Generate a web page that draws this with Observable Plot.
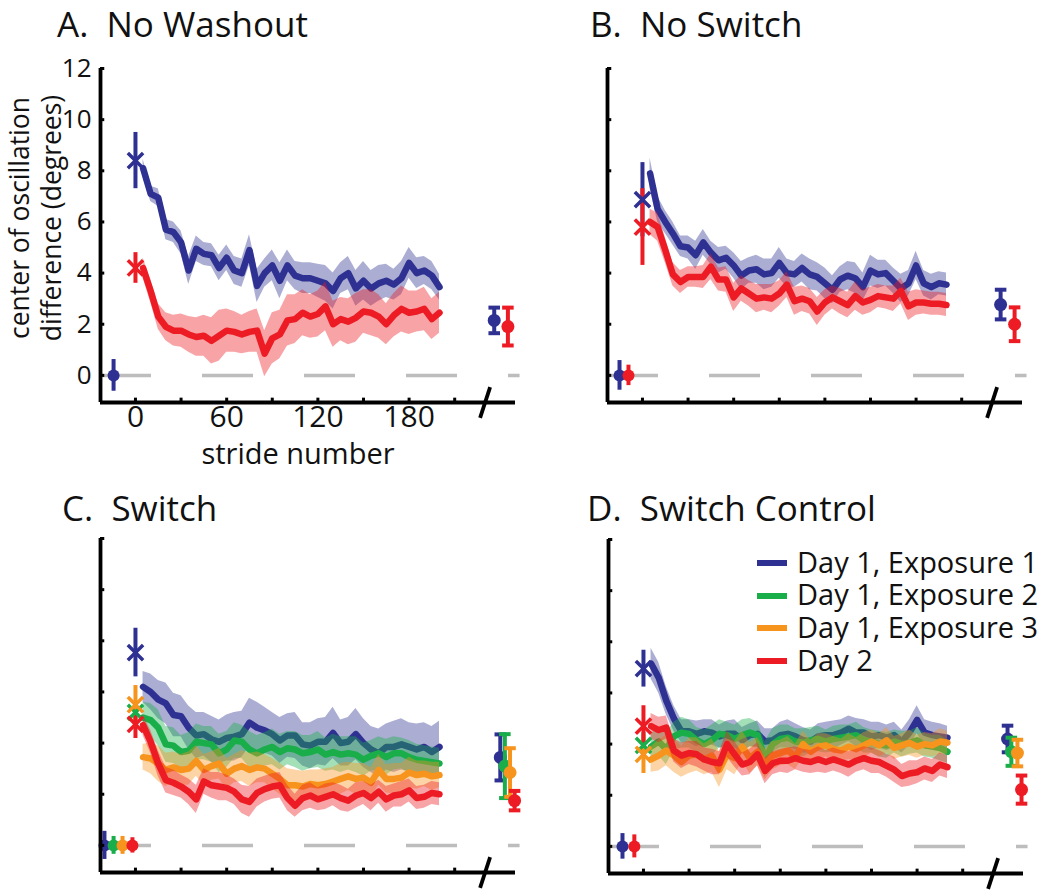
<!DOCTYPE html>
<html>
<head>
<meta charset="utf-8">
<script src="https://cdn.jsdelivr.net/npm/d3@7"></script>
<script src="https://cdn.jsdelivr.net/npm/@observablehq/plot@0.6"></script>
<style>
  html, body { margin: 0; padding: 0; background: #fff; }
  #wrap { position: relative; width: 1050px; height: 890px; overflow: hidden; font-family: "Open Sans", sans-serif; color: #111; }
  .panel { position: absolute; }
  .title { position: absolute; font-size: 35px; line-height: 48px; white-space: pre; }
  .ylab { position: absolute; width: 270px; height: 64px; font-size: 26.5px; line-height: 32px; text-align: center;
          transform: rotate(-90deg); transform-origin: 50% 50%; white-space: pre; }
  .legtext { position: absolute; left: 797px; top: 545.7px; font-size: 29px; line-height: 32.7px; white-space: pre; }
  .sw { position: absolute; left: 757px; width: 30px; height: 6px; }
</style>
</head>
<body>
<div id="wrap"></div>
<script>
// ---------- data ----------
const seriesNames = ["Day 1, Exposure 1", "Day 1, Exposure 2", "Day 1, Exposure 3", "Day 2"];
const colors = ["#2e3192", "#1aae4b", "#f7941d", "#ed1c24"];

const strides = [5,10,15,20,25,30,35,40,45,50,55,60,65,70,75,80,85,90,95,100,
                 105,110,115,120,125,130,135,140,145,150,155,160,165,170,175,180,185,190,195,200];

const yTicks = [0, 2, 4, 6, 8, 10, 12];
const xTicks = [0, 30, 60, 90, 120, 150, 180, 210];
const xTickLabels = [0, 60, 120, 180];
const breakAt = 230;
const xLabel = "stride number";
const yLabel = "center of oscillation\ndifference (degrees)";

// Panel A: No Washout
const A_blue = [8.1,7.1,6.95,5.7,5.6,5.2,4.1,4.95,4.75,4.7,4.2,4.6,4.1,4.0,4.9,3.5,4.0,4.3,3.7,4.3,3.9,3.8,3.8,3.7,3.6,3.3,3.8,4.0,3.4,3.7,3.4,3.6,3.7,3.55,3.8,4.4,4.0,4.1,3.9,3.45];
const A_blue_err = [0.35,0.3,0.35,0.4,0.4,0.45,0.55,0.5,0.45,0.45,0.5,0.5,0.55,0.55,0.6,0.65,0.55,0.6,0.7,0.6,0.55,0.6,0.6,0.65,0.7,0.7,0.6,0.65,0.7,0.75,0.7,0.7,0.65,0.6,0.65,0.6,0.6,0.55,0.55,0.5];
const A_red = [4.2,3.3,2.3,1.9,1.75,1.75,1.6,1.5,1.55,1.35,1.55,1.75,1.7,1.6,1.7,1.75,0.85,1.45,1.6,2.15,2.2,2.45,2.3,2.4,2.7,2.0,2.2,2.1,2.25,2.5,2.45,2.3,2.0,2.35,2.6,2.45,2.5,2.6,2.2,2.45];
const A_red_err = [0.4,0.45,0.5,0.55,0.6,0.65,0.7,0.75,0.8,0.9,1.0,0.85,0.8,0.75,0.8,0.85,0.9,1.0,0.95,1.0,0.95,0.9,0.85,0.9,0.95,0.9,0.85,0.9,0.95,0.85,0.9,0.85,0.8,0.85,0.9,0.85,0.8,0.85,0.8,0.8];
// [series, stride, mean, sem]
const A_initial = [[0, 0, 8.4, 1.1], [3, 0, 4.2, 0.6]];
const A_baseline = [[0, -14.4, 0, 0.62]];
const A_post = [[0, 236, 2.15, 0.5], [3, 245, 1.91, 0.74]];

// Panel B: No Switch
const B_blue = [7.9,6.5,6.0,5.55,5.05,5.0,4.7,5.2,4.8,4.5,4.6,4.3,3.9,4.1,4.15,3.95,4.0,4.4,4.0,3.95,4.2,3.95,3.85,3.6,3.35,3.75,3.9,3.8,3.45,4.1,3.95,4.0,3.7,3.4,3.6,4.3,3.6,3.45,3.6,3.55];
const B_blue_err = [0.6,0.5,0.45,0.45,0.4,0.45,0.55,0.5,0.45,0.5,0.45,0.5,0.55,0.5,0.55,0.6,0.55,0.6,0.55,0.5,0.55,0.6,0.55,0.6,0.55,0.5,0.55,0.6,0.55,0.6,0.55,0.5,0.5,0.55,0.5,0.55,0.5,0.5,0.45,0.45];
const B_red = [6.0,5.8,4.9,3.95,3.65,3.85,3.85,3.85,4.25,3.75,3.75,3.05,3.4,3.2,3.0,3.05,3.0,3.2,3.55,2.9,3.0,2.9,2.5,2.85,3.05,2.9,2.75,3.1,2.85,2.95,3.1,3.05,3.0,3.3,2.7,2.85,2.85,2.8,2.8,2.75];
const B_red_err = [0.5,0.55,0.5,0.45,0.45,0.4,0.4,0.45,0.5,0.45,0.5,0.55,0.5,0.5,0.55,0.5,0.55,0.5,0.5,0.55,0.5,0.5,0.55,0.5,0.45,0.5,0.5,0.55,0.5,0.5,0.45,0.45,0.5,0.5,0.55,0.5,0.45,0.45,0.45,0.45];
const B_initial = [[0, 0, 6.87, 1.45], [3, 0, 5.8, 1.5]];
const B_baseline = [[0, -15.1, 0, 0.58], [3, -9.2, 0, 0.4]];
const B_post = [[0, 235.6, 2.77, 0.58], [3, 244.8, 2.0, 0.66]];

// Panel C: Switch
const C_blue = [6.2,6.0,5.7,5.55,5.1,5.05,4.6,4.3,4.35,4.15,4.05,4.2,4.25,4.35,4.8,4.6,4.5,4.35,4.1,4.3,4.3,3.95,3.9,4.05,4.05,4.4,4.0,4.05,4.35,4.0,3.75,3.6,3.85,3.85,3.95,3.85,3.75,3.85,3.65,3.85];
const C_blue_err = [0.6,0.7,0.75,0.8,0.85,0.8,0.85,0.9,0.85,0.9,0.85,0.9,0.95,0.9,0.95,1.0,0.9,0.85,0.9,0.85,0.9,0.85,0.9,0.9,0.95,1.0,0.9,0.95,1.0,0.95,0.9,0.95,0.9,1.0,1.0,0.95,1.0,0.95,1.0,1.0];
const C_green = [5.0,4.9,4.6,3.95,3.9,3.65,3.7,4.05,4.0,3.95,3.6,3.75,4.1,4.05,3.75,3.6,3.75,3.85,3.65,3.8,3.75,3.6,3.65,3.75,3.55,3.65,3.55,3.6,3.55,3.35,3.5,3.6,3.45,3.6,3.6,3.45,3.35,3.3,3.25,3.2];
const C_green_err = [0.6,0.65,0.7,0.7,0.7,0.65,0.7,0.7,0.65,0.7,0.75,0.7,0.7,0.65,0.7,0.7,0.65,0.7,0.7,0.65,0.7,0.7,0.65,0.7,0.65,0.7,0.7,0.65,0.7,0.65,0.6,0.65,0.7,0.65,0.6,0.65,0.6,0.6,0.6,0.6];
const C_orange = [3.45,3.4,3.2,2.95,3.05,2.95,3.0,3.3,2.95,3.1,3.2,2.8,3.0,3.1,2.95,3.05,3.0,2.8,2.6,2.35,2.35,2.3,2.4,2.35,2.4,2.5,2.6,2.7,2.6,2.65,2.45,2.95,2.6,2.6,2.65,2.85,2.75,2.8,2.7,2.75];
const C_orange_err = [0.5,0.6,0.7,0.65,0.6,0.6,0.65,0.6,0.6,0.55,0.6,0.6,0.55,0.6,0.65,0.6,0.55,0.6,0.6,0.65,0.6,0.6,0.55,0.6,0.6,0.55,0.6,0.55,0.6,0.55,0.6,0.6,0.55,0.6,0.55,0.6,0.55,0.5,0.55,0.5];
const C_red = [4.7,4.05,3.2,2.55,2.45,2.3,2.1,1.8,2.5,2.35,2.3,2.25,2.1,1.8,1.7,2.05,2.2,2.3,2.35,1.85,1.55,1.85,1.95,1.8,1.9,2.0,1.85,1.75,1.95,2.05,1.85,2.1,1.8,1.95,2.0,2.15,1.85,1.9,2.05,2.0];
const C_red_err = [0.4,0.45,0.5,0.5,0.5,0.45,0.5,0.55,0.5,0.5,0.55,0.5,0.5,0.55,0.6,0.55,0.5,0.5,0.5,0.5,0.45,0.5,0.5,0.45,0.5,0.45,0.5,0.45,0.5,0.45,0.5,0.45,0.5,0.45,0.5,0.45,0.45,0.45,0.45,0.45];
const C_initial = [[0, 0, 7.54, 0.95], [1, 0, 5.2, 0.4], [2, 0, 5.5, 0.75], [3, 0, 4.73, 0.55]];
const C_baseline = [[0, -20.4, 0, 0.55], [1, -14.4, 0, 0.35], [2, -8.5, 0, 0.35], [3, -2, 0, 0.3]];
const C_post = [[0, 240, 3.44, 0.9], [1, 243, 3.1, 1.25], [2, 246.4, 2.85, 0.95], [3, 249.4, 1.75, 0.38]];

// Panel D: Switch Control
const D_blue = [7.15,6.6,5.7,5.0,4.5,4.5,4.4,4.5,4.45,4.3,4.4,4.4,4.15,4.35,4.4,4.1,4.15,4.35,4.4,4.3,4.15,4.1,4.3,4.35,4.35,4.45,4.6,4.45,4.45,4.3,4.35,4.25,4.35,4.1,4.45,4.95,4.45,4.35,4.3,4.25];
const D_blue_err = [0.6,0.6,0.55,0.5,0.45,0.45,0.5,0.45,0.5,0.45,0.5,0.55,0.5,0.45,0.5,0.5,0.45,0.5,0.55,0.5,0.5,0.45,0.5,0.5,0.55,0.5,0.5,0.55,0.5,0.55,0.5,0.5,0.5,0.45,0.5,0.55,0.5,0.5,0.5,0.45];
const D_green = [3.9,4.1,3.8,4.3,4.45,4.4,4.15,4.0,4.15,4.4,4.35,4.2,4.35,4.45,4.35,3.4,4.0,4.2,4.25,4.1,4.05,4.15,4.2,4.1,4.2,4.25,4.3,4.35,4.15,4.1,4.0,3.95,4.1,4.0,4.05,4.15,3.95,3.9,3.85,3.7];
const D_green_err = [0.5,0.55,0.6,0.55,0.6,0.55,0.5,0.55,0.6,0.55,0.5,0.55,0.6,0.55,0.5,0.7,0.6,0.55,0.5,0.5,0.55,0.5,0.5,0.45,0.5,0.5,0.45,0.5,0.5,0.45,0.5,0.5,0.45,0.5,0.45,0.5,0.45,0.45,0.5,0.45];
const D_orange = [3.4,3.55,3.75,3.55,3.3,3.55,3.6,3.4,3.55,3.0,3.6,3.45,3.9,3.45,3.7,3.2,3.55,3.65,3.75,3.5,4.0,3.7,3.9,3.95,3.8,3.75,3.9,3.8,3.95,4.1,3.95,4.15,3.85,3.95,4.05,3.9,4.0,3.95,4.1,4.05];
const D_orange_err = [0.5,0.6,0.6,0.65,0.6,0.7,0.65,0.6,0.65,0.7,0.6,0.65,0.6,0.6,0.55,0.6,0.55,0.5,0.55,0.5,0.5,0.45,0.5,0.45,0.5,0.45,0.5,0.45,0.5,0.45,0.45,0.5,0.45,0.45,0.5,0.45,0.45,0.45,0.5,0.45];
const D_red = [4.7,4.55,4.65,3.75,3.55,3.65,3.6,3.4,3.3,3.25,4.0,3.6,3.2,3.3,3.6,2.95,3.25,3.35,3.35,3.45,3.35,3.3,3.4,3.3,3.4,3.3,3.2,3.35,3.45,3.35,3.3,3.15,3.0,2.75,2.85,2.9,3.05,2.95,3.2,3.1];
const D_red_err = [0.5,0.5,0.45,0.45,0.5,0.45,0.5,0.45,0.5,0.45,0.5,0.5,0.45,0.5,0.45,0.5,0.45,0.45,0.5,0.45,0.45,0.45,0.5,0.45,0.45,0.45,0.5,0.45,0.45,0.5,0.45,0.45,0.5,0.45,0.5,0.45,0.45,0.45,0.45,0.45];
const D_initial = [[0, 0, 6.95, 0.72], [1, 0, 3.95, 0.5], [2, 0, 3.6, 0.75], [3, 0, 4.7, 0.8]];
const D_baseline = [[0, -13.8, 0, 0.5], [3, -6, 0, 0.45]];
const D_post = [[0, 239.5, 4.2, 0.52], [1, 242, 3.7, 0.55], [2, 246, 3.65, 0.52], [3, 248.7, 2.22, 0.55]];

// ---------- layout ----------
const X0 = -23, X1 = 250, Y0 = -1.06, Y1 = 12;
const wrap = document.getElementById("wrap");

function rows(mean, err) {
  return strides.map((s, i) => ({s, m: mean[i], lo: mean[i] - err[i], hi: mean[i] + err[i]}));
}

function panel(cfg) {
  const marks = [];
  marks.push(Plot.ruleY([0], {x1: X0, x2: X1 + 3, stroke: "#bdbdbd", strokeWidth: 3.5, strokeDasharray: "51,51"}));
  for (const [k, mean, err] of cfg.series) {
    const r = rows(mean, err);
    marks.push(Plot.areaY(r, {x: "s", y1: "lo", y2: "hi", fill: colors[k], fillOpacity: 0.4}));
    marks.push(Plot.lineY(r, {x: "s", y: "m", stroke: colors[k], strokeWidth: 6.5, strokeLinejoin: "round", strokeLinecap: "round"}));
  }
  const col = d => colors[d[0]];
  // initial (first stride) means with SEM and "x" marker
  marks.push(Plot.ruleX(cfg.initial, {x: d => d[1], y1: d => d[2] - d[3], y2: d => d[2] + d[3], stroke: col, strokeWidth: 4}));
  marks.push(Plot.dot(cfg.initial, {x: d => d[1], y: d => d[2], symbol: "times", r: 7, stroke: col, strokeWidth: 3.5}));
  // baseline
  marks.push(Plot.ruleX(cfg.baseline, {x: d => d[1], y1: d => d[2] - d[3], y2: d => d[2] + d[3], stroke: col, strokeWidth: 4}));
  marks.push(Plot.dot(cfg.baseline, {x: d => d[1], y: d => d[2], r: 6, fill: col}));
  // post (after break)
  for (const p of cfg.post) {
    const d = [p];
    marks.push(Plot.ruleX(d, {x: q => q[1], y1: q => q[2] - q[3], y2: q => q[2] + q[3], stroke: col, strokeWidth: 4}));
    marks.push(Plot.link(d, {x1: q => q[1] - 3.8, x2: q => q[1] + 3.8, y1: q => q[2] + q[3], y2: q => q[2] + q[3], stroke: col, strokeWidth: 4}));
    marks.push(Plot.link(d, {x1: q => q[1] - 3.8, x2: q => q[1] + 3.8, y1: q => q[2] - q[3], y2: q => q[2] - q[3], stroke: col, strokeWidth: 4}));
    marks.push(Plot.dot(d, {x: q => q[1], y: q => q[2], r: 6.5, fill: col}));
  }
  // axes
  marks.push(Plot.ruleX([X0], {y1: Y0, y2: Y1, stroke: "#000", strokeWidth: 3.8}));
  marks.push(Plot.ruleY([Y0], {x1: X0, x2: X1, stroke: "#000", strokeWidth: 3.8}));
  marks.push(Plot.ruleY(yTicks, {x1: X0, x2: X0 + 2.8, stroke: "#000", strokeWidth: 3}));
  marks.push(Plot.ruleX(xTicks, {y1: Y0, y2: Y0 + 0.17, stroke: "#000", strokeWidth: 3}));
  marks.push(Plot.link([breakAt], {x1: d => d - 3.3, x2: d => d + 3.3, y1: Y0 - 0.6, y2: Y0 + 0.6, stroke: "#000", strokeWidth: 3.8}));
  if (cfg.labels) {
    marks.push(Plot.text(yTicks, {y: d => d, text: d => String(d), frameAnchor: "left", textAnchor: "end", dx: -9, fontSize: 26}));
    marks.push(Plot.text(xTickLabels, {x: d => d, text: d => String(d), frameAnchor: "bottom", dy: 24, fontSize: 30}));
    marks.push(Plot.text([xLabel], {frameAnchor: "bottom", dx: -10, dy: 61, fontSize: 29}));
  }
  const chart = Plot.plot({
    width: 525, height: cfg.height,
    marginLeft: 100, marginRight: 10, marginTop: 18, marginBottom: cfg.height - 352,
    x: {domain: [X0, X1], axis: null},
    y: {domain: [Y0, Y1], axis: null},
    color: {type: "identity"},
    style: {background: "transparent", overflow: "visible", fontFamily: "'Open Sans', sans-serif", color: "#111"},
    marks
  });
  const div = document.createElement("div");
  div.className = "panel";
  div.style.left = cfg.left + "px";
  div.style.top = cfg.top + "px";
  div.style.width = "525px";
  div.appendChild(chart);
  wrap.appendChild(div);

  const t = document.createElement("div");
  t.className = "title";
  t.textContent = cfg.title;
  t.style.left = cfg.titleX + "px";
  t.style.top = cfg.titleY + "px";
  wrap.appendChild(t);
}

panel({title: "A.  No Washout", titleX: 57, titleY: 0, left: 0, top: 50, height: 425, labels: true,
  series: [[0, A_blue, A_blue_err], [3, A_red, A_red_err]],
  initial: A_initial, baseline: A_baseline, post: A_post});
panel({title: "B.  No Switch", titleX: 590, titleY: 0, left: 507, top: 50, height: 425, labels: false,
  series: [[0, B_blue, B_blue_err], [3, B_red, B_red_err]],
  initial: B_initial, baseline: B_baseline, post: B_post});
panel({title: "C.  Switch", titleX: 62, titleY: 484, left: 0, top: 520, height: 370, labels: false,
  series: [[0, C_blue, C_blue_err], [1, C_green, C_green_err], [2, C_orange, C_orange_err], [3, C_red, C_red_err]],
  initial: C_initial, baseline: C_baseline, post: C_post});
panel({title: "D.  Switch Control", titleX: 587, titleY: 484, left: 508, top: 521, height: 369, labels: false,
  series: [[0, D_blue, D_blue_err], [1, D_green, D_green_err], [2, D_orange, D_orange_err], [3, D_red, D_red_err]],
  initial: D_initial, baseline: D_baseline, post: D_post});

// y-axis label of panel A (two lines, rotated)
const yl = document.createElement("div");
yl.className = "ylab";
yl.textContent = yLabel;
yl.style.left = (35 - 135) + "px";
yl.style.top = (218 - 32) + "px";
wrap.appendChild(yl);

// legend (panel D): swatches + one multi-line text block
const rowH = 32.7, legTop = 545.7;
seriesNames.forEach((name, i) => {
  const sw = document.createElement("div");
  sw.className = "sw";
  sw.style.background = colors[i];
  sw.style.top = (legTop + rowH * i + rowH / 2 - 2) + "px";
  wrap.appendChild(sw);
});
const lt = document.createElement("div");
lt.className = "legtext";
lt.textContent = seriesNames.join("\n");
wrap.appendChild(lt);
</script>
</body>
</html>
